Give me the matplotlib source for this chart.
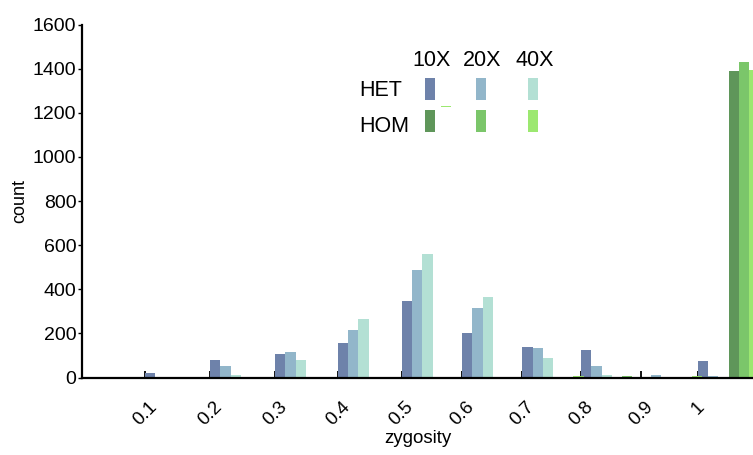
import matplotlib
matplotlib.use("Agg")
import matplotlib.pyplot as plt
import numpy as np
from matplotlib.patches import Rectangle

plt.rcParams["font.family"] = ["Liberation Sans", "DejaVu Sans"]

# left edge of each zygosity bin (as drawn), and its tick label
bin_left = [0.0, 0.1, 0.206, 0.312, 0.414, 0.518, 0.616, 0.714, 0.81, 0.907, 1.0]
tick_labels = ["0.1", "0.2", "0.3", "0.4", "0.5", "0.6", "0.7", "0.8", "0.9", "1"]

het_10x = [0, 20, 78, 105, 157, 346, 202, 139, 125, 2, 75]
het_20x = [3, 3, 52, 114, 214, 488, 316, 134, 52, 12, 6]
het_40x = [0, 2, 11, 79, 264, 561, 366, 89, 12, 0, 0]
hom_10x = [0, 3, 0, 3, 0, 3, 2, 2, 2, 1, 1390]
hom_20x = [0, 0, 0, 0, 0, 3, 2, 2, 6, 1, 1430]
hom_40x = [0, 0, 3, 3, 0, 3, 2, 8, 2, 8, 1393]

series = [het_10x, het_20x, het_40x, hom_10x, hom_20x, hom_40x]
colors = ["#6e82aa", "#92b6ca", "#b3e0d4", "#5f965a", "#7bc66a", "#9ce870"]

fig = plt.figure(figsize=(7.53, 4.55), dpi=100)
ax = fig.add_axes([82 / 753, 77.5 / 455, 1 - 82 / 753, 353 / 455])

w = 0.1 / 6
x = np.array(bin_left)
for i, (vals, c) in enumerate(zip(series, colors)):
    ax.bar(x + i * w, vals, width=w, align="edge", color=c, linewidth=0, zorder=2)

ax.set_xlim(-0.0025, 1.0895)
ax.set_ylim(0, 1600)
ax.set_yticks(range(0, 1601, 200))
ax.set_xticks(bin_left[1:])
ax.set_xticklabels(tick_labels, rotation=45, ha="center", va="top")

for s in ["top", "right"]:
    ax.spines[s].set_visible(False)
for s in ["left", "bottom"]:
    ax.spines[s].set_linewidth(1.6)
    ax.spines[s].set_zorder(3)

ax.tick_params(axis="y", direction="out", length=3, width=1, pad=1, labelsize=14)
ax.tick_params(axis="x", direction="in", length=5, width=1.3, pad=15, labelsize=13.5)
ax.set_ylabel("count", fontsize=13, labelpad=3)
ax.set_xlabel("zygosity", fontsize=13.5, labelpad=1)

# hand-made legend table (figure pixel layout)
def fx(px):
    return px / 753

def fy(py):
    return 1 - py / 455

for label, cx in zip(["10X", "20X", "40X"], [432, 482, 535]):
    fig.text(fx(cx), fy(60), label, fontsize=15.5, ha="center", va="center")
fig.text(fx(359), fy(91), "HET", fontsize=15.5, ha="left", va="center")
fig.text(fx(359), fy(127), "HOM", fontsize=15.5, ha="left", va="center")

swatch_x = [425, 476, 528]
for row, (top, row_colors) in enumerate(zip([78, 110], [colors[:3], colors[3:]])):
    for sx, c in zip(swatch_x, row_colors):
        fig.patches.append(Rectangle((fx(sx), fy(top + 22)), fx(10), 22 / 455,
                                     transform=fig.transFigure, color=c, linewidth=0))
fig.patches.append(Rectangle((fx(441), fy(106.5)), fx(10), 1 / 455,
                             transform=fig.transFigure, color=colors[5], linewidth=0))

fig.savefig("out.png", dpi=100)
